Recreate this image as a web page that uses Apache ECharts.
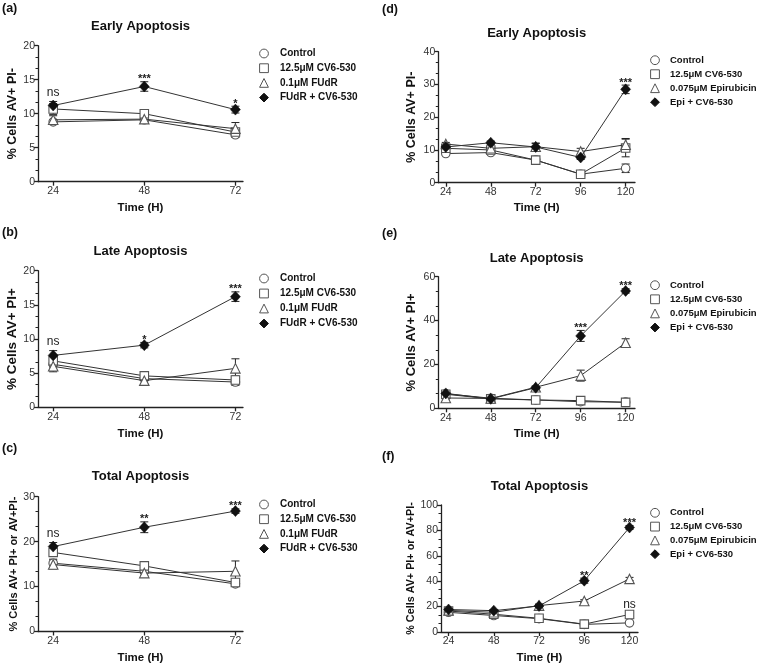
<!DOCTYPE html>
<html><head><meta charset="utf-8">
<script src="https://cdn.jsdelivr.net/npm/echarts@6/dist/echarts.min.js"></script>
<style>html,body{margin:0;padding:0;background:#fff}#c{width:760px;height:665px}</style>
</head><body><div id="c"></div>
<script>
// ---------------- DATA ----------------
const timesFUdR = [24, 48, 72];
const timesEpi = [24, 48, 72, 96, 120];
const namesFUdR = ['Control', '12.5μM CV6-530', '0.1μM FUdR', 'FUdR + CV6-530'];
const namesEpi = ['Control', '12.5μM CV6-530', '0.075μM Epirubicin', 'Epi + CV6-530'];

// (a) Early apoptosis, FUdR
const aControl = [8.8, 9.1, 6.9];
const aControlErr = [0.3, 0.3, 0.4];
const aCV6 = [10.7, 10.0, 7.3];
const aCV6Err = [0.8, 0.3, 0.4];
const aFUdR = [9.1, 9.2, 7.8];
const aFUdRErr = [0.6, 0.3, 0.9];
const aCombo = [11.2, 14.0, 10.6];
const aComboErr = [0.6, 0.7, 0.5];
const aNoteTimes = [24, 48, 72];
const aNoteTexts = ['ns', '***', '*'];
const aNoteSeries = [3, 3, 3];

// (b) Late apoptosis, FUdR
const bControl = [6.3, 4.2, 3.7];
const bControlErr = [0.4, 0.3, 0.5];
const bCV6 = [6.8, 4.6, 4.0];
const bCV6Err = [0.5, 0.3, 0.6];
const bFUdR = [6.0, 3.9, 5.7];
const bFUdRErr = [0.8, 0.4, 1.4];
const bCombo = [7.6, 9.1, 16.2];
const bComboErr = [0.7, 0.4, 0.7];
const bNoteTimes = [24, 48, 72];
const bNoteTexts = ['ns', '*', '***'];
const bNoteSeries = [3, 3, 3];

// (c) Total apoptosis, FUdR
const cControl = [15.2, 13.4, 10.6];
const cControlErr = [0.9, 0.5, 0.6];
const cCV6 = [17.6, 14.6, 10.9];
const cCV6Err = [0.8, 0.4, 0.6];
const cFUdR = [14.9, 13.0, 13.4];
const cFUdRErr = [1.0, 0.5, 2.3];
const cCombo = [18.9, 23.2, 26.8];
const cComboErr = [0.9, 1.2, 0.5];
const cNoteTimes = [24, 48, 72];
const cNoteTexts = ['ns', '**', '***'];
const cNoteSeries = [3, 3, 3];

// (d) Early apoptosis, Epirubicin
const dControl = [8.9, 9.2, 6.9, 2.6, 4.4];
const dControlErr = [0.4, 0.4, 0.3, 0.4, 1.3];
const dCV6 = [10.5, 10.0, 6.9, 2.6, 10.6];
const dCV6Err = [0.5, 0.4, 0.4, 0.4, 2.7];
const dEpi = [11.8, 10.5, 11.0, 9.5, 11.6];
const dEpiErr = [0.5, 0.4, 1.0, 1.0, 1.9];
const dCombo = [10.9, 12.2, 10.9, 7.7, 28.5];
const dComboErr = [0.8, 0.5, 1.2, 0.6, 1.3];
const dNoteTimes = [120];
const dNoteTexts = ['***'];
const dNoteSeries = [3];

// (e) Late apoptosis, Epirubicin
const eControl = [6.6, 4.6, 3.8, 3.0, 2.8];
const eControlErr = [0.5, 0.4, 0.3, 0.4, 0.4];
const eCV6 = [6.4, 4.3, 3.8, 3.5, 2.7];
const eCV6Err = [0.6, 0.4, 0.4, 0.4, 0.3];
const eEpi = [4.7, 4.5, 9.6, 14.9, 29.9];
const eEpiErr = [0.5, 0.4, 0.6, 2.5, 1.8];
const eCombo = [6.8, 4.3, 9.4, 33.0, 53.5];
const eComboErr = [0.8, 0.5, 0.5, 2.5, 1.0];
const eNoteTimes = [96, 120];
const eNoteTexts = ['***', '***'];
const eNoteSeries = [3, 3];

// (f) Total apoptosis, Epirubicin
const fControl = [15.5, 13.0, 10.5, 6.0, 7.2];
const fControlErr = [0.8, 0.6, 0.5, 0.6, 0.6];
const fCV6 = [16.5, 14.0, 10.8, 6.2, 13.8];
const fCV6Err = [0.8, 0.6, 0.6, 0.6, 1.2];
const fEpi = [17.0, 15.5, 20.8, 24.4, 41.8];
const fEpiErr = [0.8, 0.6, 0.8, 1.0, 1.2];
const fCombo = [17.7, 16.8, 20.5, 40.4, 82.3];
const fComboErr = [1.0, 0.8, 1.5, 2.0, 1.5];
const fNoteTimes = [96, 120, 120];
const fNoteTexts = ['**', '***', 'ns'];
const fNoteSeries = [3, 3, 1];

const yTicksMax = [20, 20, 30, 40, 60, 100];
const yTicksInterval = [5, 5, 10, 10, 20, 20];

// ---------------- PANELS ----------------
const panels = [
  {label: '(a)', title: 'Early Apoptosis', yName: '% Cells AV+ PI-', times: timesFUdR, names: namesFUdR,
   values: [aControl, aCV6, aFUdR, aCombo], errs: [aControlErr, aCV6Err, aFUdRErr, aComboErr],
   notes: [aNoteTimes, aNoteTexts, aNoteSeries]},
  {label: '(b)', title: 'Late Apoptosis', yName: '% Cells AV+ PI+', times: timesFUdR, names: namesFUdR,
   values: [bControl, bCV6, bFUdR, bCombo], errs: [bControlErr, bCV6Err, bFUdRErr, bComboErr],
   notes: [bNoteTimes, bNoteTexts, bNoteSeries]},
  {label: '(c)', title: 'Total Apoptosis', yName: '% Cells AV+ PI+ or AV+PI-', times: timesFUdR, names: namesFUdR,
   values: [cControl, cCV6, cFUdR, cCombo], errs: [cControlErr, cCV6Err, cFUdRErr, cComboErr],
   notes: [cNoteTimes, cNoteTexts, cNoteSeries]},
  {label: '(d)', title: 'Early Apoptosis', yName: '% Cells AV+ PI-', times: timesEpi, names: namesEpi,
   values: [dControl, dCV6, dEpi, dCombo], errs: [dControlErr, dCV6Err, dEpiErr, dComboErr],
   notes: [dNoteTimes, dNoteTexts, dNoteSeries]},
  {label: '(e)', title: 'Late Apoptosis', yName: '% Cells AV+ PI+', times: timesEpi, names: namesEpi,
   values: [eControl, eCV6, eEpi, eCombo], errs: [eControlErr, eCV6Err, eEpiErr, eComboErr],
   notes: [eNoteTimes, eNoteTexts, eNoteSeries]},
  {label: '(f)', title: 'Total Apoptosis', yName: '% Cells AV+ PI+ or AV+PI-', times: timesEpi, names: namesEpi,
   values: [fControl, fCV6, fEpi, fCombo], errs: [fControlErr, fCV6Err, fEpiErr, fComboErr],
   notes: [fNoteTimes, fNoteTexts, fNoteSeries]}
];

// ---------------- LAYOUT / STYLE ----------------
const FONT = '"Liberation Sans", Arial, Helvetica, sans-serif';
const layout = [
  {grid: {left: 38, top: 45.7, width: 205, height: 136}, xMin: 20, xMax: 74, lab: [2, 8.5], titleY: 26,
   leg: {left: 253, top: 48.5, gap: 4.7, w: 22, fs: 10}, yNameSize: 12.5, yGap: 19, xGap: 20},
  {grid: {left: 38, top: 270.7, width: 205, height: 136.6}, xMin: 20, xMax: 74, lab: [2, 233], titleY: 251.7,
   leg: {left: 253, top: 273.5, gap: 5, w: 22, fs: 10}, yNameSize: 13.5, yGap: 19, xGap: 20.5},
  {grid: {left: 38, top: 496.7, width: 205, height: 135.3}, xMin: 20, xMax: 74, lab: [2, 448.5], titleY: 476.7,
   leg: {left: 253, top: 499.5, gap: 4.7, w: 22, fs: 10}, yNameSize: 11, yGap: 19, xGap: 20.5},
  {grid: {left: 438.3, top: 51.7, width: 196.7, height: 131}, xMin: 20, xMax: 125, lab: [382, 10], titleY: 33.3,
   leg: {left: 645, top: 55.2, gap: 4, w: 20, fs: 9.5}, yNameSize: 12.5, yGap: 20, xGap: 19},
  {grid: {left: 438.3, top: 276.7, width: 196.7, height: 131.6}, xMin: 20, xMax: 125, lab: [382, 233.5], titleY: 258.3,
   leg: {left: 645, top: 280.2, gap: 4.1, w: 20, fs: 9.5}, yNameSize: 13, yGap: 20, xGap: 20},
  {grid: {left: 441, top: 505, width: 197, height: 129.7}, xMin: 20, xMax: 124.5, lab: [382, 456.7], titleY: 486.7,
   leg: {left: 645, top: 507.8, gap: 3.8, w: 20, fs: 9.5}, yNameSize: 10.8, yGap: 20, xGap: 20}
];

const symbols = ['circle', 'rect', 'triangle', 'diamond'];
const symSizes = [8.5, 8.5, 9.5, [10, 11]];
const AXIS_COLOR = '#222';

const option = {
  animation: false,
  backgroundColor: '#fff',
  grid: [], xAxis: [], yAxis: [], legend: [], series: [], graphic: []
};

panels.forEach((p, i) => {
  const L = layout[i];
  option.grid.push(Object.assign({containLabel: false}, L.grid));

  option.graphic.push({type: 'text', x: L.lab[0], y: L.lab[1], silent: true,
    style: {text: p.label, fontSize: 12.5, fontWeight: 'bold', fontFamily: FONT, fill: '#111', align: 'left', verticalAlign: 'middle'}});
  option.graphic.push({type: 'text', x: L.grid.left + L.grid.width / 2, y: L.titleY, silent: true,
    style: {text: p.title, fontSize: 13, fontWeight: 'bold', fontFamily: FONT, fill: '#111', align: 'center', verticalAlign: 'middle'}});

  option.xAxis.push({
    gridIndex: i, type: 'value', min: L.xMin, max: L.xMax,
    axisLine: {show: true, onZero: false, lineStyle: {color: AXIS_COLOR, width: 1.3}},
    axisTick: {show: true, customValues: p.times, length: 4, lineStyle: {color: AXIS_COLOR, width: 1.3}},
    axisLabel: {show: true, customValues: p.times, margin: 4, fontSize: 10.5, color: '#333', fontFamily: FONT},
    splitLine: {show: false},
    name: 'Time (H)', nameLocation: 'middle', nameGap: L.xGap,
    nameTextStyle: {fontWeight: 'bold', fontSize: 11.5, color: '#111', fontFamily: FONT}
  });
  option.yAxis.push({
    gridIndex: i, type: 'value', min: 0, max: yTicksMax[i], interval: yTicksInterval[i],
    axisLine: {show: true, onZero: false, lineStyle: {color: AXIS_COLOR, width: 1.3}},
    axisTick: {show: true, length: 4, lineStyle: {color: AXIS_COLOR, width: 1.3}},
    minorTick: {show: true, splitNumber: 3, length: 2.5, lineStyle: {color: AXIS_COLOR, width: 1}},
    axisLabel: {margin: 3, fontSize: 10.5, color: '#333', fontFamily: FONT},
    splitLine: {show: false},
    name: p.yName, nameLocation: 'middle', nameGap: L.yGap,
    nameTextStyle: {fontWeight: 'bold', fontSize: L.yNameSize, color: '#111', fontFamily: FONT}
  });

  // error bars
  const errData = [];
  p.values.forEach((vals, s) => {
    p.times.forEach((t, k) => { errData.push([t, vals[k] - p.errs[s][k], vals[k] + p.errs[s][k]]); });
  });
  option.series.push({
    type: 'custom', xAxisIndex: i, yAxisIndex: i, z: 2, silent: true, data: errData,
    renderItem: (params, api) => {
      const x = api.value(0);
      const lo = api.coord([x, api.value(1)]);
      const hi = api.coord([x, api.value(2)]);
      const cap = 4;
      const st = {stroke: '#222', lineWidth: 1};
      return {type: 'group', children: [
        {type: 'line', shape: {x1: lo[0], y1: lo[1], x2: hi[0], y2: hi[1]}, style: st},
        {type: 'line', shape: {x1: lo[0] - cap, y1: lo[1], x2: lo[0] + cap, y2: lo[1]}, style: st},
        {type: 'line', shape: {x1: hi[0] - cap, y1: hi[1], x2: hi[0] + cap, y2: hi[1]}, style: st}
      ]};
    }
  });

  // line series
  p.values.forEach((vals, s) => {
    const filled = s === 3;
    option.series.push({
      type: 'line', name: p.names[s], xAxisIndex: i, yAxisIndex: i,
      data: p.times.map((t, k) => [t, vals[k]]),
      symbol: symbols[s], symbolSize: symSizes[s], showAllSymbol: true,
      lineStyle: {color: '#333', width: 1},
      itemStyle: filled ? {color: '#111', borderColor: '#111', borderWidth: 0.5}
                        : {color: '#fff', borderColor: '#555', borderWidth: 1.1},
      z: 3 + s, emphasis: {disabled: true}
    });
  });

  // significance annotations
  const [nTimes, nTexts, nSeries] = p.notes;
  option.series.push({
    type: 'custom', xAxisIndex: i, yAxisIndex: i, z: 10, silent: true,
    data: nTimes.map((t, k) => {
      const s = nSeries[k];
      const idx = p.times.indexOf(t);
      return [t, p.values[s][idx] + p.errs[s][idx]];
    }),
    renderItem: (params, api) => {
      const txt = nTexts[params.dataIndex];
      const pt = api.coord([api.value(0), api.value(1)]);
      const star = txt[0] === '*';
      return {type: 'text', x: pt[0], y: pt[1] - (star ? 2.5 : 8.5),
        style: {text: txt, align: 'center', verticalAlign: 'middle', fontSize: star ? 11 : 12,
                fontWeight: star ? 'bold' : 'normal', fontFamily: FONT, fill: '#222'}};
    }
  });

  option.legend.push({
    orient: 'vertical', left: L.leg.left, top: L.leg.top, padding: 0,
    itemWidth: L.leg.w, itemHeight: 11, itemGap: L.leg.gap,
    data: p.names, selectedMode: false,
    itemStyle: {borderWidth: 1},
    lineStyle: {width: 0, opacity: 0},
    textStyle: {fontSize: L.leg.fs, fontWeight: 'bold', color: '#111', fontFamily: FONT}
  });
});

const chart = echarts.init(document.getElementById('c'), null, {renderer: 'canvas'});
chart.setOption(option);
</script>
</body></html>
